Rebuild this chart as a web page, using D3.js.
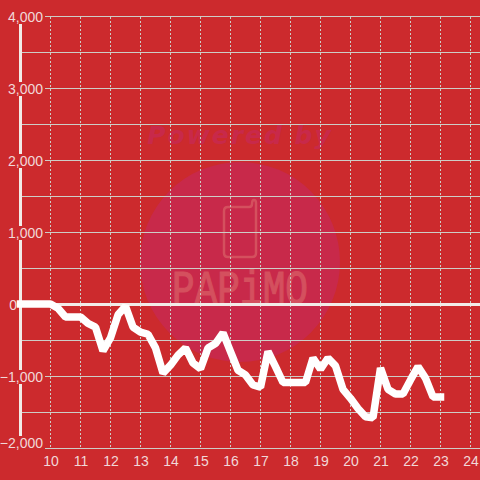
<!DOCTYPE html>
<html><head><meta charset="utf-8">
<script src="https://cdnjs.cloudflare.com/ajax/libs/d3/7.8.5/d3.min.js"></script>
<style>html,body{margin:0;padding:0;background:#cc2a2d}svg{display:block}</style>
</head><body><div id="chart"></div>
<script>
const hours = [9,10,10.25,10.5,10.75,11,11.25,11.5,11.75,12,12.25,12.5,12.75,13,13.25,13.5,13.75,14,14.25,14.5,14.75,15,15.25,15.5,15.75,16,16.25,16.5,16.75,17,17.25,17.5,17.75,18,18.25,18.5,18.75,19,19.25,19.5,19.75,20,20.25,20.5,20.75,21,21.25,21.5,21.75,22,22.25,22.5,22.75,23];
const values = [0,0,-60,-180,-180,-180,-270,-320,-650,-470,-150,-30,-320,-390,-420,-610,-960,-850,-710,-610,-820,-900,-610,-550,-400,-660,-920,-985,-1125,-1155,-660,-870,-1090,-1090,-1090,-1090,-750,-905,-750,-860,-1185,-1310,-1450,-1565,-1580,-890,-1185,-1250,-1250,-1055,-870,-1030,-1290,-1290];
const xTicks = [10,11,12,13,14,15,16,17,18,19,20,21,22,23,24];
const yLabelled = [4000,3000,2000,1000,0,-1000,-2000];
const yGrid = [4000,3500,3000,2500,2000,1500,1000,500,-500,-1000,-1500,-2000];

const bg = "#cc2a2d", textCol = "#f1d8d8", gridCol = "#cdcdc7", axisCol = "#f2ebe8";
const x = d3.scaleLinear().domain([10,24]).range([50.5,470.5]);
const y = d3.scaleLinear().domain([4000,-2000]).range([16.5,448.5]);
const svg = d3.select("#chart").append("svg").attr("width",480).attr("height",480);
svg.append("rect").attr("width",480).attr("height",480).attr("fill",bg);

// watermark
const wm = svg.append("g");
wm.append("circle").attr("cx",240).attr("cy",262).attr("r",100).attr("fill","#c8294a");
wm.append("text").attr("x",240).attr("y",144).attr("text-anchor","middle")
  .attr("font-family","DejaVu Sans").attr("font-weight","bold").attr("font-style","italic")
  .attr("font-size",25).attr("letter-spacing",2).attr("fill","#c8294a").text("Powered by");
wm.append("path").attr("fill","none").attr("stroke","#d4505e").attr("stroke-width",2.5)
  .attr("d","M228 207H249Q252 207 252 204Q252 200 254 200Q256 200 256 203V253Q256 257 252 257H228Q224 257 224 253V211Q224 207 228 207Z");
wm.append("text").attr("x",240).attr("y",304).attr("text-anchor","middle")
  .attr("font-family","Liberation Mono").attr("font-size",48).attr("textLength",136).attr("lengthAdjust","spacingAndGlyphs")
  .attr("fill","#d4505e").attr("stroke","#d4505e").attr("stroke-width",1.2).text("PAPiMO");

// grid
svg.append("g").selectAll("line").data(yGrid).join("line")
  .attr("x1",20).attr("x2",480).attr("y1",d=>y(d)).attr("y2",d=>y(d))
  .attr("stroke",gridCol).attr("stroke-width",1);
svg.append("g").selectAll("line").data(xTicks).join("line")
  .attr("x1",d=>x(d)).attr("x2",d=>x(d)).attr("y1",17).attr("y2",448)
  .attr("stroke",gridCol).attr("stroke-width",1).attr("stroke-dasharray","2,2");

// y axis line
svg.append("line").attr("x1",20.5).attr("x2",20.5).attr("y1",16).attr("y2",448)
  .attr("stroke",axisCol).attr("stroke-width",3);

// y labels
const yAxis = svg.append("g").attr("transform","translate(43,0)")
  .call(d3.axisLeft(y).tickValues(yLabelled).tickSize(0).tickPadding(0).tickFormat(d3.format(",")));
yAxis.select(".domain").remove();
yAxis.selectAll(".tick").each(function(d){
  const g = d3.select(this);
  const t = g.select("text").attr("fill",textCol).attr("font-family","Liberation Sans").attr("font-size",14)
    .attr("dy",null).attr("dominant-baseline","central");
  if (d===-2000) t.attr("y",-6);
  if (d===0) { t.attr("x",-26); return; }
  g.insert("rect","text").attr("x",-41).attr("width",43).attr("y",d===-2000?-13:-7).attr("height",14).attr("fill",bg);
});

// zero line
svg.append("line").attr("x1",17).attr("x2",480).attr("y1",y(0)).attr("y2",y(0))
  .attr("stroke",axisCol).attr("stroke-width",3);

// x labels
const xAxis = svg.append("g").attr("transform","translate(0,448)")
  .call(d3.axisBottom(x).tickValues(xTicks).tickSize(0).tickPadding(0).tickFormat(d3.format("d")));
xAxis.select(".domain").remove();
xAxis.selectAll("text").attr("fill",textCol).attr("font-family","Liberation Sans").attr("font-size",14)
  .attr("dy",null).attr("y",18);

// series
const line = d3.line().x((d,i)=>x(hours[i])).y(d=>y(d));
svg.append("path").datum(values).attr("fill","none").attr("stroke","#fff").attr("stroke-width",7.5)
  .attr("stroke-linecap","square").attr("stroke-linejoin","bevel").attr("transform","translate(0,-0.5)").attr("d",line);
</script></body></html>
